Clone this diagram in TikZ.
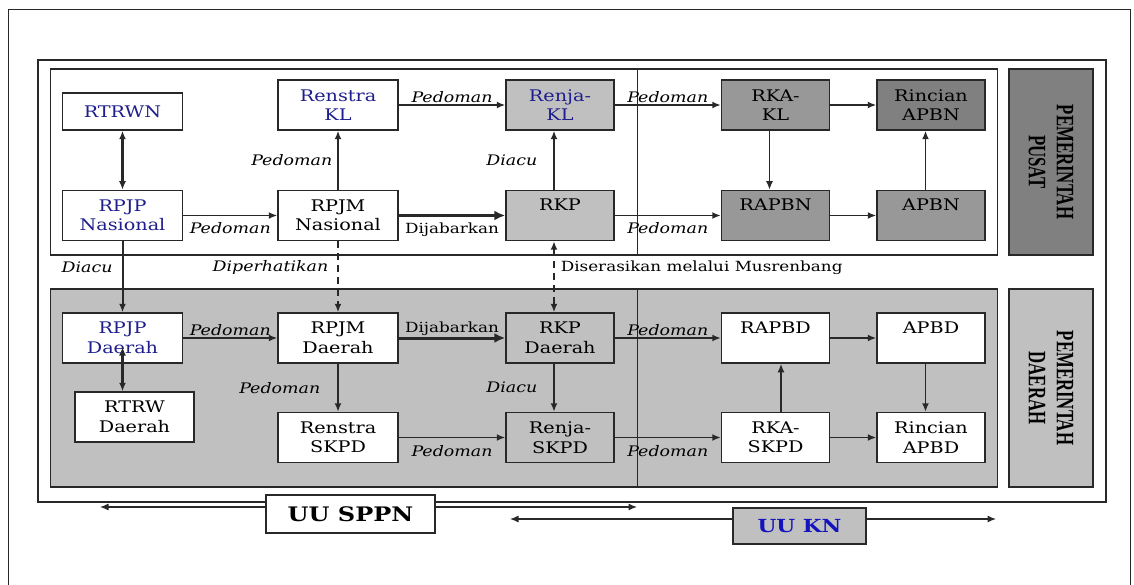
\documentclass[tikz,border=0pt]{standalone}
\usepackage{fontspec}
\setmainfont{DejaVu Serif}[FakeStretch=1.2]
\newfontfamily\sisifont{Liberation Serif}[FakeStretch=0.67]
\usepackage{xcolor}
\usetikzlibrary{arrows.meta}

\definecolor{navy}{RGB}{30,30,140}
\definecolor{biru}{RGB}{20,20,190}
\definecolor{abu}{RGB}{192,192,192}
\definecolor{abusedang}{RGB}{152,152,152}
\definecolor{abutua}{RGB}{128,128,128}
\definecolor{garis}{RGB}{40,40,40}

\begin{document}
\begin{tikzpicture}[x=1pt, y=-1pt, >={Latex[length=8.5pt,width=7pt]},
        kotak/.style={draw=garis, line width=1.5pt, fill=white, minimum width=120pt,
            minimum height=50pt, inner sep=0pt, align=center,
            font=\fontsize{16}{19.5}\selectfont},
        sempit/.style={minimum width=108pt},
        satubaris/.style={text height=12pt, text depth=21pt},
        sisi/.style={draw=garis, line width=1.5pt, rotate=-90, minimum height=84pt,
            align=center, font=\sisifont\bfseries\fontsize{25}{28}\selectfont},
        uu/.style={draw=garis, line width=1.5pt, inner sep=0pt, minimum height=38pt,
            font=\bfseries\fontsize{20}{24}\selectfont},
        ket/.style={font=\fontsize{14.5}{17}\selectfont\itshape, inner sep=1pt},
        ketr/.style={font=\fontsize{14}{17}\selectfont, inner sep=1pt},
        panah/.style={draw=garis, line width=1.6pt, ->},
        putus/.style={dash pattern=on 7pt off 5pt},
        tebal/.style={draw=garis, line width=3pt, -{Latex[length=11pt,width=10pt]}}]
    \useasboundingbox (0,0) rectangle (1134,585);

    % bingkai dan panel
    \draw[line width=1pt, draw=garis] (8,585) -- (8,10) -- (1130,10) -- (1130,585);
    \draw[line width=1.6pt, draw=garis] (38,60) rectangle (1106,502);
    \draw[line width=1.5pt, draw=garis, fill=white] (50.5,69) rectangle (997.5,255);
    \draw[line width=1.5pt, draw=garis, fill=abu] (50.5,289) rectangle (997.5,487);
    \draw[line width=1.5pt, draw=garis] (637.5,69) -- (637.5,255);
    \draw[line width=1.5pt, draw=garis] (637.5,289) -- (637.5,487);

    \node[sisi, fill=abutua, minimum width=186pt] (pusat) at (1051,162) {PEMERINTAH\\PUSAT};
    \node[sisi, fill=abu, minimum width=198pt] (daerah) at (1051,388) {PEMERINTAH\\DAERAH};

    % pemerintah pusat
    \node[kotak, text=navy, minimum height=37pt] (rtrwn) at (122.5,111.5) {RTRWN};
    \node[kotak, text=navy] (renstrakl) at (338,105) {Renstra\\KL};
    \node[kotak, sempit, fill=abu, text=navy] (renjakl) at (560,105) {Renja-\\KL};
    \node[kotak, sempit, fill=abusedang] (rkakl) at (775.5,105) {RKA-\\KL};
    \node[kotak, sempit, fill=abutua] (rincianapbn) at (931,105) {Rincian\\APBN};
    \node[kotak, text=navy] (rpjpn) at (122.5,215.5) {RPJP\\Nasional};
    \node[kotak] (rpjmn) at (338,215.5) {RPJM\\Nasional};
    \node[kotak, sempit, satubaris, fill=abu] (rkp) at (560,215.5) {RKP};
    \node[kotak, sempit, satubaris, fill=abusedang] (rapbn) at (775.5,215.5) {RAPBN};
    \node[kotak, sempit, satubaris, fill=abusedang] (apbn) at (931,215.5) {APBN};

    % pemerintah daerah
    \node[kotak, text=navy] (rpjpd) at (122.5,338) {RPJP\\Daerah};
    \node[kotak] (rpjmd) at (338,338) {RPJM\\Daerah};
    \node[kotak, sempit, fill=abu] (rkpd) at (560,338) {RKP\\Daerah};
    \node[kotak, sempit, satubaris] (rapbd) at (775.5,338) {RAPBD};
    \node[kotak, sempit, satubaris] (apbd) at (931,338) {APBD};
    \node[kotak, minimum width=119pt] (rtrwd) at (134.5,417) {RTRW\\Daerah};
    \node[kotak] (renstraskpd) at (338,437.5) {Renstra\\SKPD};
    \node[kotak, sempit, fill=abu] (renjaskpd) at (560,437.5) {Renja-\\SKPD};
    \node[kotak, sempit] (rkaskpd) at (775.5,437.5) {RKA-\\SKPD};
    \node[kotak, sempit] (rincianapbd) at (931,437.5) {Rincian\\APBD};

    \node[uu, fill=white, minimum width=169pt] (uusppn) at (350.5,514) {UU SPPN};
    \node[uu, fill=abu, text=biru, minimum width=133pt, minimum height=36pt,
        font=\bfseries\fontsize{18}{22}\selectfont] (uukn) at (799.5,526) {UU KN};
    \coordinate (sppnkiri) at (100,507);
    \coordinate (sppnkanan) at (637,507);
    \coordinate (knkiri) at (510,519);
    \coordinate (knkanan) at (996,519);

    % panah pusat
    \draw[panah, line width=2.4pt, <->] (rtrwn) -- (rpjpn);
    \draw[panah] (renstrakl) -- node[ket, above] {Pedoman} (renjakl);
    \draw[panah] (rpjmn) -- node[ket, left, xshift=-4pt] {Pedoman} (renstrakl);
    \draw[panah] ([xshift=-6pt]rkp.north) -- node[ket, left, xshift=-15pt] {Diacu} ([xshift=-6pt]renjakl.south);
    \draw[panah] (renjakl) -- node[ket, above] {Pedoman} (rkakl);
    \draw[panah] (rkakl) -- (rincianapbn);
    \draw[panah] ([xshift=-6pt]rkakl.south) -- ([xshift=-6pt]rapbn.north);
    \draw[panah] ([xshift=-5.5pt]apbn.north) -- ([xshift=-5.5pt]rincianapbn.south);
    \draw[panah] (rpjpn) -- node[ket, below=5pt] {Pedoman} (rpjmn);
    \draw[tebal] (rpjmn) -- node[ketr, below=5pt] {Dijabarkan} (rkp);
    \draw[panah] (rkp) -- node[ket, below=5pt] {Pedoman} (rapbn);
    \draw[panah] (rapbn) -- (apbn);

    % panah antar panel
    \draw[panah, line width=2pt] (rpjpn) -- node[ket, pos=0.37, left, xshift=-8pt] {Diacu} (rpjpd);
    \draw[panah, putus] (rpjmn) -- node[ket, pos=0.37, left, xshift=-8pt] {Diperhatikan} (rpjmd);
    \draw[panah, putus, <->] ([xshift=-6pt]rkp.south) -- node[ketr, pos=0.37, right, xshift=5pt] {Diserasikan melalui Musrenbang} ([xshift=-6pt]rkpd.north);

    % panah daerah
    \draw[panah] (rpjpd) -- node[ket, above] {Pedoman} (rpjmd);
    \draw[tebal] (rpjmd) -- node[ketr, above] {Dijabarkan} (rkpd);
    \draw[panah] (rkpd) -- node[ket, above] {Pedoman} (rapbd);
    \draw[panah] (rapbd) -- (apbd);
    \draw[panah] (rpjmd) -- node[ket, left, xshift=-16pt] {Pedoman} (renstraskpd);
    \draw[panah] ([xshift=-6pt]rkpd.south) -- node[ket, left, xshift=-15pt] {Diacu} ([xshift=-6pt]renjaskpd.north);
    \draw[panah] (renstraskpd) -- node[ket, below=6pt] {Pedoman} (renjaskpd);
    \draw[panah] (renjaskpd) -- node[ket, below=6pt] {Pedoman} (rkaskpd);
    \draw[panah] (rkaskpd) -- (rincianapbd);
    \draw[panah] ([xshift=5.5pt]rkaskpd.north) -- ([xshift=5.5pt]rapbd.south);
    \draw[panah] ([xshift=-5.5pt]apbd.south) -- ([xshift=-5.5pt]rincianapbd.north);
    \draw[panah, line width=2.4pt, <->] ([yshift=-9pt]rpjpd.center) -- (rpjpd |- rtrwd.north);

    % undang-undang
    \draw[panah, line width=1.2pt] ([yshift=7pt]uusppn.west) -- (sppnkiri);
    \draw[panah, line width=1.2pt] ([yshift=7pt]uusppn.east) -- (sppnkanan);
    \draw[panah, line width=1.2pt] ([yshift=7pt]uukn.west) -- (knkiri);
    \draw[panah, line width=1.2pt] ([yshift=7pt]uukn.east) -- (knkanan);
\end{tikzpicture}
\end{document}
